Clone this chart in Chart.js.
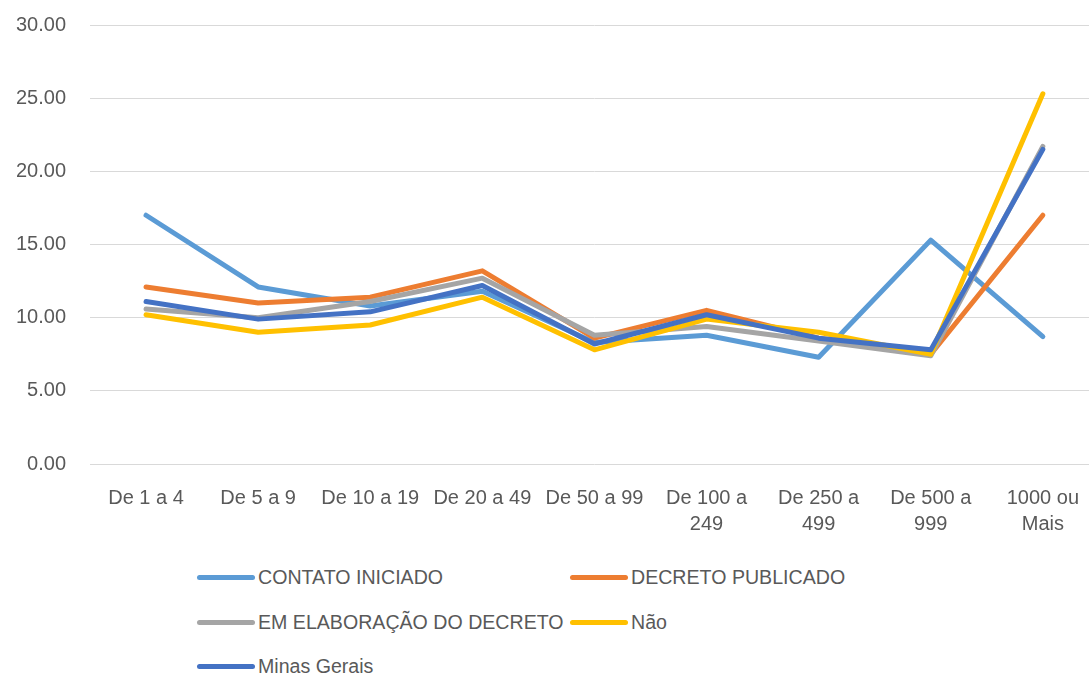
<!DOCTYPE html>
<html>
<head>
<meta charset="utf-8">
<script src="https://cdn.jsdelivr.net/npm/chart.js@4.4.0/dist/chart.umd.min.js"></script>
<style>
  html, body { margin: 0; padding: 0; background: #fff; width: 1089px; height: 675px; overflow: hidden; }
  #wrap { position: absolute; left: 0; top: 0; width: 1100px; height: 545px; }
  .leg { position: absolute; font-family: "Liberation Sans", Arial, sans-serif; font-size: 19.6px; color: #595959; white-space: nowrap; line-height: 24px; }
  .leg .sw { position: absolute; top: 9.5px; height: 5px; border-radius: 3px; width: 58px; }
  .leg .tx { position: absolute; left: 61px; top: 0; }
</style>
</head>
<body>
<div id="wrap"><canvas id="c"></canvas></div>
<div id="legend"></div>
<script>
const categories = [["De 1 a 4"], ["De 5 a 9"], ["De 10 a 19"], ["De 20 a 49"], ["De 50 a 99"], ["De 100 a", "249"], ["De 250 a", "499"], ["De 500 a", "999"], ["1000 ou", "Mais"]];
const seriesNames = ["CONTATO INICIADO", "DECRETO PUBLICADO", "EM ELABORAÇÃO DO DECRETO", "Não", "Minas Gerais"];
const contatoIniciado = [17.0, 12.1, 10.8, 11.8, 8.3, 8.8, 7.3, 15.3, 8.7];
const decretoPublicado = [12.1, 11.0, 11.4, 13.2, 8.6, 10.5, 8.6, 7.5, 17.0];
const emElaboracao = [10.6, 10.0, 11.1, 12.7, 8.8, 9.4, 8.4, 7.4, 21.7];
const nao = [10.2, 9.0, 9.5, 11.4, 7.8, 9.9, 9.0, 7.5, 25.3];
const minasGerais = [11.1, 9.9, 10.4, 12.2, 8.2, 10.2, 8.6, 7.8, 21.5];
const yTicks = [0, 5, 10, 15, 20, 25, 30];

const colors = ["#5B9BD5", "#ED7D31", "#A5A5A5", "#FFC000", "#4472C4"];
const allSeries = [contatoIniciado, decretoPublicado, emElaboracao, nao, minasGerais];

const datasets = allSeries.map((d, i) => ({
  label: seriesNames[i],
  data: d,
  borderColor: colors[i],
  backgroundColor: colors[i],
  borderWidth: 5,
  pointRadius: 0,
  pointHoverRadius: 0,
  tension: 0,
  fill: false,
  borderCapStyle: 'round',
  borderJoinStyle: 'round',
  order: allSeries.length - i
}));

const font = { family: '"Liberation Sans", Arial, sans-serif', size: 20 };

new Chart(document.getElementById('c'), {
  type: 'line',
  data: { labels: categories, datasets },
  options: {
    responsive: true,
    maintainAspectRatio: false,
    animation: false,
    layout: { padding: { top: 25, right: 0, left: 0, bottom: 0 } },
    plugins: { legend: { display: false }, tooltip: { enabled: false } },
    scales: {
      x: {
        offset: true,
        grid: { display: false, drawTicks: false },
        border: { display: false },
        ticks: { color: '#595959', font: { ...font, lineHeight: 1.3 }, padding: 21, maxRotation: 0, autoSkip: false },
        afterFit: s => { s.height = 81; }
      },
      y: {
        min: 0, max: 30,
        afterBuildTicks: s => { s.ticks = yTicks.map(v => ({ value: v })); },
        grid: { color: '#D9D9D9', lineWidth: 1, drawTicks: false },
        border: { display: false },
        ticks: { color: '#595959', font, padding: 24, callback: v => Number(v).toFixed(2) },
        afterFit: s => { s.width = 90; s.paddingTop = 0; s.paddingBottom = 0; }
      }
    }
  }
});

// HTML legend (two columns, as in the reference)
const legendPos = [[197, 565], [570, 565], [197, 610], [570, 610], [197, 654]];
const legEl = document.getElementById('legend');
seriesNames.forEach((n, i) => {
  const d = document.createElement('div');
  d.className = 'leg';
  d.style.left = legendPos[i][0] + 'px';
  d.style.top = legendPos[i][1] + 'px';
  d.innerHTML = '<span class="sw" style="background:' + colors[i] + '"></span><span class="tx"></span>';
  d.querySelector('.tx').textContent = n;
  legEl.appendChild(d);
});
</script>
</body>
</html>
